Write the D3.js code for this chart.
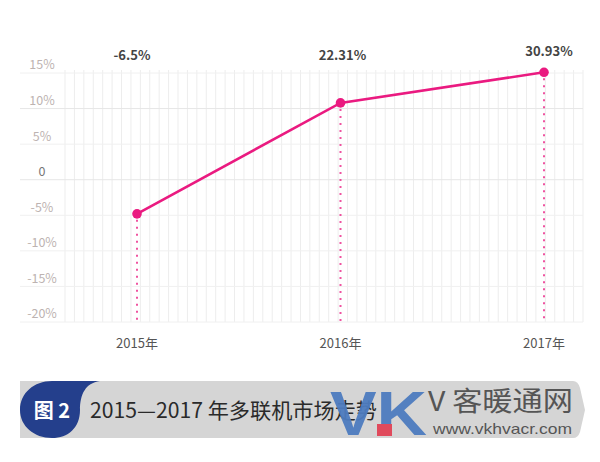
<!DOCTYPE html>
<html><head><meta charset="utf-8">
<script src="https://cdn.jsdelivr.net/npm/d3@7"></script>
<style>html,body{margin:0;padding:0;background:#fff;}svg{display:block;}</style>
</head><body>
<script>
const years = ["2015年", "2016年", "2017年"];
const plotValues = [-4.8, 10.8, 15.1];
const pointLabels = ["-6.5%", "22.31%", "30.93%"];
const yTicks = [15, 10, 5, 0, -5, -10, -15, -20];
const yTickLabels = ["15%", "10%", "5%", "0", "-5%", "-10%", "-15%", "-20%"];
const title = "2015—2017 年多联机市场走势";
const badge = "图 2";

const W = 600, H = 462;
const svg = d3.select("body").append("svg").attr("width", W).attr("height", H);
const font = "'Noto Sans CJK SC','Noto Sans',sans-serif";

const x = d3.scalePoint().domain(years).range([137, 544]);
const y = d3.scaleLinear().domain([-20, 15]).range([322, 73]);

// vertical grid
const gx = d3.scaleLinear().domain([0, 55]).range([65, 583]);
svg.append("g").selectAll("line").data(d3.range(56)).join("line")
  .attr("x1", d => gx(d)).attr("x2", d => gx(d))
  .attr("y1", y(15) - 3).attr("y2", y(-20))
  .attr("stroke", "#ededed").attr("stroke-width", 1);

// horizontal grid
svg.append("g").selectAll("line").data(yTicks).join("line")
  .attr("x1", 20).attr("x2", 583)
  .attr("y1", d => y(d)).attr("y2", d => y(d))
  .attr("stroke", d => (d === 0 || d === 10) ? "#e6e6e6" : "#f0f0f0").attr("stroke-width", 1);

// y labels
svg.append("g").selectAll("text").data(yTicks).join("text")
  .attr("x", 42).attr("y", d => y(d) - 8).attr("dy", "0.35em")
  .attr("text-anchor", "middle")
  .attr("font-family", font).attr("font-size", 12.5)
  .attr("fill", (d, i) => d === 0 ? "#777" : "#bdb3b1")
  .text((d, i) => yTickLabels[i]);

// x labels
svg.append("g").selectAll("text").data(years).join("text")
  .attr("x", d => x(d)).attr("y", 343).attr("dy", "0.35em")
  .attr("text-anchor", "middle")
  .attr("font-family", font).attr("font-size", 13)
  .attr("fill", "#555").text(d => d);

const pink = "#ea1a80";
// drop lines
svg.append("g").selectAll("line").data(years).join("line")
  .attr("x1", d => x(d)).attr("x2", d => x(d))
  .attr("y1", (d, i) => y(plotValues[i]) + 6).attr("y2", y(-20))
  .attr("stroke", pink).attr("stroke-opacity", 0.75).attr("stroke-width", 2)
  .attr("stroke-dasharray", "2,5");

// line
const line = d3.line().x((d, i) => x(years[i])).y(d => y(d));
svg.append("path").datum(plotValues).attr("d", line)
  .attr("fill", "none").attr("stroke", pink).attr("stroke-width", 2.6);

svg.append("g").selectAll("circle").data(plotValues).join("circle")
  .attr("cx", (d, i) => x(years[i])).attr("cy", d => y(d)).attr("r", 4.8)
  .attr("fill", pink);

// point labels
const labelDx = [-5, 2, 5];
const labelY = [55, 55, 51];
svg.append("g").selectAll("text").data(pointLabels).join("text")
  .attr("x", (d, i) => x(years[i]) + labelDx[i]).attr("y", (d, i) => labelY[i]).attr("dy", "0.35em")
  .attr("text-anchor", "middle")
  .attr("font-family", font).attr("font-size", 13).attr("font-weight", "bold")
  .attr("fill", "#444").text(d => d);

// banner
const b = svg.append("g");
b.append("path")
  .attr("d", "M20,381 L573,381 Q578,381 580,388 L585,410 L580,432 Q578,438 573,438 L20,438 Z")
  .attr("fill", "#d5d5d5");
b.append("path")
  .attr("d", "M100,381 C85,383 80,395 80,410 C80,428 68,438 52,438 C34,438 20,426 20,410 C20,393 34,381 52,381 Z")
  .attr("fill", "#243f8c");
b.append("text").attr("x", 52).attr("y", 411).attr("dy", "0.35em")
  .attr("text-anchor", "middle").attr("font-family", font).attr("font-size", 20)
  .attr("font-weight", "bold").attr("fill", "#fff").text(badge);
b.append("text").attr("x", 90).attr("y", 411).attr("dy", "0.35em")
  .attr("font-family", font).attr("font-size", 21).attr("fill", "#2a2a2a")
  .attr("textLength", 287).attr("lengthAdjust", "spacingAndGlyphs").text(title);

// watermark
b.append("text").attr("x", 330).attr("y", 435)
  .attr("font-family", "'Liberation Sans',Arial,sans-serif").attr("font-size", 63).attr("font-weight", "bold")
  .attr("fill", "#4d7bbf").attr("fill-opacity", 0.95)
  .attr("textLength", 97).attr("lengthAdjust", "spacingAndGlyphs").text("VK");
b.append("rect").attr("x", 377).attr("y", 424).attr("width", 15).attr("height", 12).attr("fill", "#e04a5c");
b.append("text").attr("x", 428).attr("y", 411)
  .attr("font-family", "'Noto Sans CJK SC',serif").attr("font-size", 27)
  .attr("fill", "#555").attr("textLength", 145).attr("lengthAdjust", "spacingAndGlyphs").text("V 客暖通网");
b.append("text").attr("x", 433).attr("y", 434)
  .attr("font-family", "'Liberation Sans',Arial,sans-serif").attr("font-size", 15)
  .attr("fill", "#555").attr("textLength", 139).attr("lengthAdjust", "spacingAndGlyphs").text("www.vkhvacr.com");
</script>
</body></html>
